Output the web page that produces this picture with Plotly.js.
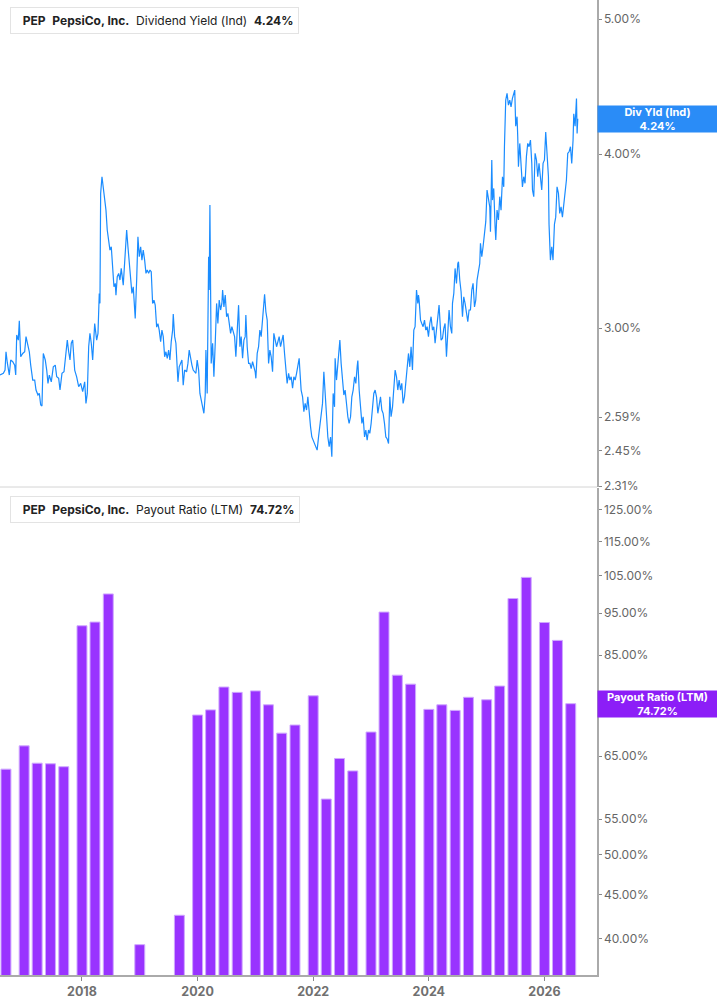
<!DOCTYPE html>
<html>
<head>
<meta charset="utf-8">
<script src="https://cdn.plot.ly/plotly-3.0.1.min.js"></script>
<style>
html,body{margin:0;padding:0;background:#fff;}
#chart{width:717px;height:1005px;}
</style>
</head>
<body>
<div id="chart"></div>
<script>
// Dividend yield (Ind), % — time as decimal year
const divYears = [2016.582,2016.640,2016.669,2016.686,2016.709,2016.743,2016.767,2016.802,2016.836,2016.854,2016.871,2016.899,2016.916,2016.940,2016.975,2017.009,2017.032,2017.066,2017.089,2017.113,2017.148,2017.182,2017.205,2017.239,2017.262,2017.286,2017.308,2017.331,2017.365,2017.390,2017.412,2017.435,2017.469,2017.504,2017.538,2017.563,2017.597,2017.620,2017.654,2017.689,2017.711,2017.746,2017.770,2017.793,2017.815,2017.839,2017.874,2017.908,2017.943,2017.978,2018.012,2018.047,2018.069,2018.092,2018.116,2018.138,2018.161,2018.185,2018.220,2018.254,2018.277,2018.299,2018.311,2018.323,2018.346,2018.368,2018.392,2018.415,2018.437,2018.462,2018.484,2018.507,2018.531,2018.553,2018.576,2018.588,2018.610,2018.635,2018.657,2018.679,2018.714,2018.738,2018.761,2018.773,2018.795,2018.818,2018.842,2018.864,2018.887,2018.911,2018.921,2018.946,2018.968,2018.991,2019.015,2019.037,2019.060,2019.084,2019.107,2019.129,2019.153,2019.176,2019.198,2019.222,2019.245,2019.267,2019.292,2019.314,2019.336,2019.361,2019.383,2019.406,2019.430,2019.452,2019.475,2019.499,2019.521,2019.544,2019.568,2019.579,2019.603,2019.625,2019.648,2019.660,2019.682,2019.706,2019.729,2019.751,2019.776,2019.810,2019.833,2019.855,2019.879,2019.902,2019.924,2019.948,2019.971,2019.993,2020.018,2020.040,2020.063,2020.087,2020.109,2020.132,2020.144,2020.166,2020.191,2020.201,2020.213,2020.225,2020.235,2020.260,2020.282,2020.305,2020.329,2020.351,2020.374,2020.398,2020.420,2020.433,2020.455,2020.478,2020.502,2020.524,2020.547,2020.571,2020.593,2020.616,2020.640,2020.662,2020.685,2020.709,2020.732,2020.754,2020.778,2020.801,2020.823,2020.835,2020.858,2020.882,2020.905,2020.927,2020.951,2020.974,2020.996,2021.008,2021.031,2021.055,2021.077,2021.100,2021.124,2021.147,2021.159,2021.181,2021.204,2021.228,2021.250,2021.273,2021.297,2021.319,2021.342,2021.366,2021.389,2021.411,2021.435,2021.458,2021.480,2021.504,2021.527,2021.549,2021.574,2021.596,2021.619,2021.643,2021.665,2021.688,2021.712,2021.734,2021.757,2021.769,2021.791,2021.816,2021.838,2021.861,2021.885,2021.907,2021.930,2021.954,2021.976,2021.999,2022.023,2022.046,2022.068,2022.092,2022.115,2022.137,2022.161,2022.184,2022.206,2022.231,2022.253,2022.276,2022.300,2022.322,2022.345,2022.369,2022.379,2022.403,2022.426,2022.448,2022.461,2022.483,2022.507,2022.530,2022.552,2022.576,2022.599,2022.621,2022.646,2022.668,2022.691,2022.715,2022.737,2022.760,2022.772,2022.795,2022.819,2022.842,2022.864,2022.888,2022.910,2022.933,2022.957,2022.979,2023.002,2023.026,2023.048,2023.071,2023.095,2023.118,2023.140,2023.164,2023.187,2023.209,2023.233,2023.256,2023.278,2023.303,2023.325,2023.347,2023.372,2023.394,2023.417,2023.441,2023.463,2023.486,2023.510,2023.532,2023.555,2023.579,2023.602,2023.624,2023.648,2023.671,2023.693,2023.717,2023.740,2023.762,2023.774,2023.787,2023.809,2023.821,2023.832,2023.856,2023.878,2023.901,2023.925,2023.947,2023.970,2023.994,2024.017,2024.039,2024.063,2024.086,2024.108,2024.132,2024.155,2024.177,2024.212,2024.236,2024.259,2024.281,2024.305,2024.328,2024.350,2024.374,2024.397,2024.409,2024.432,2024.454,2024.478,2024.501,2024.513,2024.535,2024.558,2024.582,2024.604,2024.627,2024.651,2024.674,2024.696,2024.720,2024.743,2024.765,2024.790,2024.812,2024.834,2024.859,2024.881,2024.893,2024.916,2024.938,2024.962,2024.985,2025.007,2025.032,2025.054,2025.066,2025.089,2025.101,2025.123,2025.146,2025.158,2025.180,2025.204,2025.227,2025.249,2025.274,2025.296,2025.308,2025.330,2025.353,2025.377,2025.400,2025.422,2025.446,2025.469,2025.486,2025.503,2025.526,2025.538,2025.550,2025.573,2025.595,2025.619,2025.642,2025.664,2025.688,2025.711,2025.734,2025.758,2025.781,2025.793,2025.815,2025.838,2025.862,2025.884,2025.906,2025.931,2025.953,2025.976,2026.000,2026.022,2026.045,2026.069,2026.079,2026.103,2026.126,2026.148,2026.173,2026.195,2026.218,2026.242,2026.264,2026.287,2026.311,2026.334,2026.356,2026.380,2026.403,2026.426,2026.450,2026.472,2026.495,2026.507,2026.530,2026.554,2026.565,2026.576];
const divValues = [2.776,2.784,2.799,2.885,2.832,2.776,2.846,2.838,2.822,2.776,2.966,2.941,3.036,2.861,2.877,2.885,2.958,2.909,2.885,2.822,2.753,2.753,2.708,2.686,2.693,2.642,2.638,2.877,2.846,2.799,2.738,2.776,2.745,2.814,2.822,2.768,2.761,2.708,2.784,2.791,2.838,2.941,2.885,2.846,2.926,2.941,2.799,2.768,2.723,2.738,2.701,2.745,2.649,2.693,2.909,2.974,2.926,2.846,3.023,2.941,2.974,3.177,3.125,3.748,3.853,3.789,3.697,3.646,3.528,3.451,3.413,3.432,3.320,3.212,3.230,3.168,3.266,3.284,3.248,3.311,3.221,3.338,3.480,3.528,3.432,3.338,3.257,3.177,3.212,3.125,3.048,3.248,3.489,3.376,3.432,3.357,3.413,3.357,3.284,3.302,3.284,3.302,3.293,3.125,3.142,3.116,3.005,3.022,2.990,2.933,2.990,2.958,2.861,2.885,2.854,2.893,2.846,2.933,2.990,3.071,2.958,2.926,2.814,2.745,2.814,2.830,2.846,2.730,2.799,2.791,2.830,2.893,2.846,2.822,2.799,2.791,2.784,2.846,2.799,2.693,2.664,2.634,2.606,2.686,2.893,2.693,3.376,3.195,3.677,3.195,2.830,2.926,2.768,2.926,3.125,3.023,3.142,3.091,3.125,3.195,3.107,3.168,3.057,3.074,3.023,2.974,3.007,2.974,2.958,2.861,3.023,3.116,2.909,2.958,2.854,2.941,2.958,3.065,2.909,2.830,2.830,2.806,2.838,2.814,2.791,2.761,2.877,2.909,2.990,2.958,3.057,3.159,3.173,3.082,3.040,2.830,2.893,2.861,2.791,2.974,2.941,2.909,2.933,2.958,2.909,2.933,2.966,2.877,2.784,2.738,2.784,2.753,2.768,2.716,2.768,2.753,2.784,2.814,2.854,2.799,2.708,2.678,2.613,2.649,2.620,2.678,2.591,2.548,2.506,2.493,2.473,2.466,2.452,2.506,2.563,2.591,2.649,2.791,2.678,2.563,2.506,2.466,2.506,2.425,2.693,2.634,2.854,2.753,2.830,2.901,2.941,2.830,2.738,2.686,2.708,2.634,2.591,2.563,2.591,2.678,2.708,2.768,2.738,2.814,2.843,2.708,2.634,2.563,2.591,2.506,2.535,2.493,2.535,2.521,2.563,2.620,2.693,2.708,2.678,2.606,2.649,2.678,2.620,2.606,2.563,2.506,2.499,2.479,2.678,2.591,2.634,2.738,2.799,2.768,2.708,2.753,2.708,2.738,2.649,2.678,2.738,2.830,2.877,2.814,2.909,2.799,2.990,3.007,3.142,3.195,3.125,3.168,3.142,3.040,3.023,3.007,3.040,2.990,3.007,2.958,3.023,3.057,2.990,3.007,2.926,2.990,3.040,3.116,2.941,2.949,2.999,3.023,2.861,2.958,3.091,3.007,2.974,3.125,3.177,3.311,3.230,3.338,3.348,3.248,3.186,3.057,3.159,3.125,3.082,3.032,3.091,3.091,3.195,3.230,3.107,3.142,3.248,3.293,3.338,3.451,3.376,3.432,3.528,3.577,3.769,3.707,3.666,3.518,3.961,3.707,3.779,3.548,3.470,3.646,3.587,3.728,3.646,3.853,3.789,4.049,4.373,4.422,4.337,4.373,4.325,4.385,4.422,4.446,4.189,4.255,4.116,3.917,4.071,3.961,3.789,3.853,3.811,3.983,4.071,4.049,4.094,3.939,3.769,3.728,4.005,3.961,3.853,3.939,3.832,3.769,3.939,3.961,4.148,3.961,3.853,3.563,3.357,3.432,3.357,3.563,3.604,3.789,3.748,3.626,3.666,3.604,3.687,3.769,3.832,4.005,4.015,4.049,3.939,4.094,4.276,4.189,4.385,4.139,4.240];

// Payout ratio (LTM), % — quarterly
const payoutYears = [2016.685,2017.000,2017.225,2017.455,2017.685,2018.000,2018.225,2018.455,2018.685,2019.000,2019.225,2019.455,2019.685,2020.000,2020.225,2020.455,2020.685,2021.000,2021.225,2021.455,2021.685,2022.000,2022.225,2022.455,2022.685,2023.000,2023.225,2023.455,2023.685,2024.000,2024.225,2024.455,2024.685,2025.000,2025.225,2025.455,2025.685,2026.000,2026.225,2026.455];
const payoutValues = [62.8,66.8,63.8,63.7,63.2,91.9,92.8,100.0,null,39.4,null,null,42.6,72.5,73.5,78.1,77.0,77.3,74.5,69.1,70.6,76.3,58.0,64.6,62.5,69.3,95.3,80.6,78.7,73.6,74.5,73.4,76.0,75.5,78.3,98.8,104.5,92.7,88.4,74.72];

const xTickVals = [2018,2020,2022,2024,2026];
const xTickText = ['2018','2020','2022','2024','2026'];
const divTickVals = [2.31,2.45,2.59,3,4,5];
const divTickText = ['2.31%','2.45%','2.59%','3.00%','4.00%','5.00%'];
const payoutTickVals = [40,45,50,55,65,75,85,95,105,115,125];
const payoutTickText = ['40.00%','45.00%','50.00%','55.00%','65.00%','75.00%','85.00%','95.00%','105.00%','115.00%','125.00%'];

const lastDiv = divValues[divValues.length-1];
const lastPayout = payoutValues[payoutValues.length-1];

const BLUE = '#1a8cff';
const PURPLE = '#9933ff';
const tickFont = {family:'Inter, Roboto, sans-serif', size:12, color:'#666666'};

const traces = [
  {type:'scatter', mode:'lines', x:divYears, y:divValues, xaxis:'x', yaxis:'y',
   line:{color:BLUE, width:1.2}, hoverinfo:'skip'},
  {type:'bar', x:payoutYears, y:payoutValues, xaxis:'x', yaxis:'y2', width:0.172,
   marker:{color:PURPLE, line:{color:'#cfa8ff', width:1}}, hoverinfo:'skip'}
];

const SP = '\u00A0 ';
const legendText = (name, val) =>
  '\u00A0\u00A0<b>PEP</b>' + SP + '<b>PepsiCo, Inc.</b>' + SP + name + SP + '<b>' + val + '</b>';

const legendFont = {family:'Inter, Roboto, sans-serif', size:12, color:'#222222'};

const layout = {
  width:717, height:1005,
  margin:{l:0, r:120, t:0, b:30},
  paper_bgcolor:'#ffffff', plot_bgcolor:'#ffffff',
  showlegend:false,
  font:{family:'Inter, Roboto, sans-serif'},
  xaxis:{anchor:'y2', type:'linear', range:[2016.582, 2026.909],
    tickvals:xTickVals, ticktext:xTickText, showgrid:false, zeroline:false,
    showline:true, linecolor:'#aaaaaa', linewidth:2,
    ticks:'outside', ticklen:4, tickcolor:'#888888', tickwidth:1,
    tickfont:{family:'Inter, Roboto, sans-serif', size:12.5, color:'#707070', weight:700}},
  yaxis:{domain:[0.5005,1], type:'log', side:'right', range:[Math.log10(2.307), Math.log10(5.16)],
    tickvals:divTickVals, ticktext:divTickText, showgrid:false, zeroline:false,
    showline:true, linecolor:'#aaaaaa', linewidth:1.5,
    ticks:'outside', ticklen:3, tickcolor:'#888888', tickfont:tickFont},
  yaxis2:{domain:[0,0.4995], type:'log', side:'right', range:[Math.log10(36.35), Math.log10(132.5)],
    tickvals:payoutTickVals, ticktext:payoutTickText, showgrid:false, zeroline:false,
    showline:true, linecolor:'#aaaaaa', linewidth:1.5,
    ticks:'outside', ticklen:3, tickcolor:'#888888', tickfont:tickFont},
  shapes:[
    {type:'line', xref:'paper', yref:'paper', x0:0, x1:1, y0:0.5005, y1:0.5005,
     line:{color:'#d4d4d4', width:1}},
    {type:'rect', xref:'paper', yref:'paper', x0:10/597, x1:13/597, y0:(975-33)/975, y1:(975-8)/975,
     fillcolor:BLUE, line:{width:0}, layer:'above'},
    {type:'rect', xref:'paper', yref:'paper', x0:10/597, x1:13/597, y0:(975-522)/975, y1:(975-497)/975,
     fillcolor:'#8c1ef7', line:{width:0}, layer:'above'}
  ],
  annotations:[
    {xref:'paper', yref:'paper', x:10/597, y:(975-20.5)/975, xanchor:'left', yanchor:'middle',
     text:legendText('Dividend Yield (Ind)', lastDiv.toFixed(2)+'%'), showarrow:false,
     font:legendFont, bgcolor:'#ffffff', bordercolor:'#e3e3e3', borderwidth:1, borderpad:5, align:'left'},
    {xref:'paper', yref:'paper', x:10/597, y:(975-509.5)/975, xanchor:'left', yanchor:'middle',
     text:legendText('Payout Ratio (LTM)', lastPayout.toFixed(2)+'%'), showarrow:false,
     font:legendFont, bgcolor:'#ffffff', bordercolor:'#e3e3e3', borderwidth:1, borderpad:5, align:'left'},
    {xref:'paper', yref:'y', x:1, y:Math.log10(lastDiv), xanchor:'left', yanchor:'middle',
     text:'<b>Div Yld (Ind)</b><br><b>'+lastDiv.toFixed(2)+'%</b>', showarrow:false,
     font:{family:'Inter, Roboto, sans-serif', size:11, color:'#ffffff'},
     bgcolor:'#2a8cf7', borderpad:1, width:117, height:24, align:'center'},
    {xref:'paper', yref:'y2', x:1, y:Math.log10(lastPayout), xanchor:'left', yanchor:'middle',
     text:'<b>Payout Ratio (LTM)</b><br><b>'+lastPayout.toFixed(2)+'%</b>', showarrow:false,
     font:{family:'Inter, Roboto, sans-serif', size:11, color:'#ffffff'},
     bgcolor:'#8c1ef7', borderpad:1, width:117, height:24, align:'center'}
  ]
};

Plotly.newPlot('chart', traces, layout, {displayModeBar:false, staticPlot:true});
</script>
</body>
</html>
